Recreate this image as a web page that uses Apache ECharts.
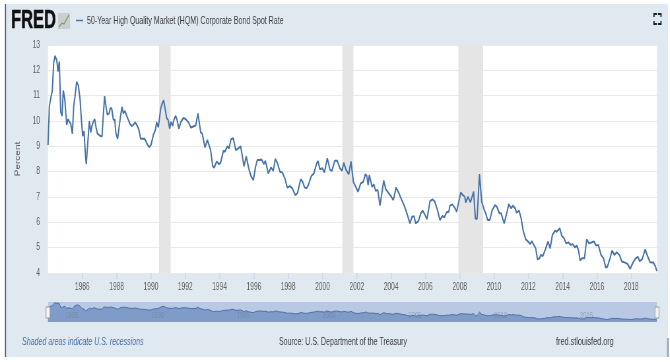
<!DOCTYPE html>
<html><head><meta charset="utf-8">
<style>html,body{margin:0;padding:0;background:#fff;overflow:hidden}
#w{width:670px;height:362px;overflow:hidden}
#c{width:1015px;height:362px;transform:scaleX(0.66);transform-origin:0 0;filter:blur(0.3px)}</style>
<script src="https://cdn.jsdelivr.net/npm/echarts@6/dist/echarts.min.js"></script>
</head><body><div id="w"><div id="c"></div></div>
<script>
const seriesName = '50-Year High Quality Market (HQM) Corporate Bond Spot Rate';
const yTicks = [4,5,6,7,8,9,10,11,12,13];
const xTicks = [1986,1988,1990,1992,1994,1996,1998,2000,2002,2004,2006,2008,2010,2012,2014,2016,2018];
const navTicks = [1985,1990,1995,2000,2005,2010,2015];
const recessions = [[1990.47,1991.15],[2001.16,2001.8],[2007.92,2009.36]];
const dates = [
1984.00,1984.08,1984.16,1984.25,1984.33,1984.41,1984.51,1984.58,1984.66,1984.74,1984.82,1984.89,1984.97,
1985.09,1985.17,1985.24,1985.32,1985.42,1985.50,1985.57,1985.67,1985.77,1985.87,1985.94,
1986.02,1986.10,1986.18,1986.23,1986.33,1986.41,1986.49,1986.56,1986.64,1986.72,1986.80,1986.88,1986.97,
1987.07,1987.15,1987.23,1987.30,1987.38,1987.46,1987.56,1987.63,1987.71,1987.81,1987.89,1987.96,
1988.06,1988.14,1988.24,1988.31,1988.39,1988.49,1988.59,1988.68,1988.78,1988.88,1988.97,
1989.09,1989.21,1989.30,1989.40,1989.50,1989.62,1989.71,1989.81,1989.91,
1990.00,1990.14,1990.26,1990.33,1990.43,1990.49,1990.57,1990.66,1990.74,1990.82,1990.92,
1991.00,1991.09,1991.17,1991.27,1991.34,1991.44,1991.52,1991.63,1991.75,1991.89,
1992.02,1992.18,1992.33,1992.47,1992.61,1992.74,1992.90,1992.99,
1993.15,1993.29,1993.36,1993.48,1993.60,1993.69,1993.83,1993.97,
1994.06,1994.22,1994.32,1994.45,1994.55,1994.67,1994.80,1994.94,
1995.09,1995.23,1995.42,1995.56,1995.70,1995.83,1995.97,
1996.10,1996.20,1996.32,1996.45,1996.59,1996.67,1996.84,
1997.00,1997.13,1997.25,1997.37,1997.52,1997.66,1997.81,1997.95,
1998.10,1998.24,1998.42,1998.55,1998.73,1998.84,1998.96,
1999.08,1999.19,1999.35,1999.50,1999.66,1999.74,1999.85,1999.99,
2000.11,2000.28,2000.44,2000.55,2000.71,2000.86,
2001.02,2001.14,2001.24,2001.37,2001.53,2001.66,2001.80,2001.94,
2002.07,2002.23,2002.38,2002.50,2002.58,2002.66,2002.73,2002.89,2002.99,
2003.10,2003.22,2003.35,2003.41,2003.57,2003.68,2003.84,2003.98,
2004.13,2004.29,2004.46,2004.62,2004.79,2004.95,
2005.10,2005.22,2005.34,2005.43,2005.59,2005.73,2005.84,2005.98,
2006.09,2006.27,2006.41,2006.54,2006.70,2006.85,2006.99,
2007.10,2007.24,2007.36,2007.43,2007.57,2007.73,2007.82,
2008.06,2008.17,2008.29,2008.35,2008.48,2008.62,2008.81,2008.91,
2009.01,2009.15,2009.28,2009.40,2009.51,2009.63,2009.75,2009.90,
2010.06,2010.16,2010.31,2010.41,2010.59,2010.74,2010.86,
2011.00,2011.09,2011.23,2011.32,2011.46,2011.58,2011.71,2011.85,2011.99,
2012.10,2012.20,2012.35,2012.43,2012.53,2012.65,2012.72,2012.84,2012.98,
2013.15,2013.27,2013.40,2013.56,2013.66,2013.83,2013.95,
2014.08,2014.20,2014.34,2014.47,2014.59,2014.72,2014.82,2014.92,
2015.02,2015.13,2015.27,2015.40,2015.54,2015.70,2015.83,2015.95,
2016.08,2016.24,2016.38,2016.51,2016.61,2016.76,2016.88,
2017.02,2017.15,2017.31,2017.45,2017.60,2017.78,2017.93,
2018.13,2018.26,2018.38,2018.49,2018.63,2018.81,2018.94,
2019.10,2019.29,2019.41,2019.49];
const rates = [
9.05,10.6,10.9,11.2,12.3,12.57,12.4,11.95,12.35,10.35,10.2,11.2,10.9,
9.85,10.08,9.97,9.9,9.5,10.6,10.95,11.55,11.4,10.85,10.1,
9.4,9.6,8.65,8.3,9.25,10,9.55,9.8,9.97,10.08,9.75,9.5,9.45,
9.4,9.4,10.3,10.98,10.55,10.25,10.3,10.5,10.5,10.05,10.05,9.5,
9.3,9.75,10.25,10.55,10.3,10.4,10.2,10.05,9.88,9.8,9.85,
9.95,9.8,9.65,9.3,9.3,9.3,9.2,9.05,8.97,
9.05,9.45,9.65,9.95,9.75,9.7,10.5,10.7,10.82,10.5,10.1,
10.05,9.7,9.97,9.8,10.05,10.2,10.05,9.7,9.97,10.12,
10.08,9.95,9.74,9.78,9.82,10.3,9.55,9.5,
8.96,9.25,9.3,8.85,8.22,8.16,8.4,8.3,
8.35,8.82,8.8,9,8.92,9.28,9.32,8.85,
8.92,9,8.22,8.6,8.13,7.83,7.67,
8.2,8.46,8.46,8.48,8.3,8.43,7.93,
8.17,8.03,8.5,8.35,8,7.97,7.73,7.37,
7.43,7.34,7.07,7.17,7.7,7.6,7.37,
7.35,7.5,7.83,7.93,8.33,8.42,8.09,8.14,
7.97,8.53,8.07,8.03,8.43,8.43,
8.13,8.04,8.35,8.07,7.9,8.4,7.6,7.4,
7.21,7.54,7.6,7.9,7.84,7.47,7.87,7.4,7.5,
7.24,7.28,6.66,6.62,7.65,7.32,7.17,7.04,
6.88,7.37,7.14,6.88,6.62,6.29,
5.96,6.22,6.24,5.96,6.05,6.36,6.46,6.28,
6.13,6.84,6.91,6.82,6.49,6.09,6.25,
6.2,6.4,6.42,6.66,6.71,6.55,6.42,
7.18,7.08,7.01,6.78,7.01,6.79,7.21,6.16,
6.13,7.9,6.82,6.55,6.36,6.09,6.09,6.49,
6.68,6.62,6.36,6.36,5.96,6.36,6.72,
6.55,6.66,6.55,6.38,6.46,6.16,5.63,5.33,5.24,
5.14,5.26,5.07,4.97,4.54,4.58,4.71,4.67,4.91,
5.24,4.97,5.5,5.67,5.63,5.76,5.47,
5.37,5.17,5.21,5.11,5.14,5.01,5.08,4.91,
4.49,4.58,4.58,5.33,5.17,5.21,5.24,5.08,
5.11,4.71,4.58,4.22,4.25,4.58,4.88,
4.71,4.82,4.71,4.45,4.42,4.36,4.16,
4.45,4.58,4.64,4.47,4.54,4.93,4.68,
4.42,4.41,4.25,4.08];
const pairs = dates.map((d,i)=>[d,rates[i]]);
const S = 0.66, X = px => px / S;
const sans = '"Liberation Sans",Arial,sans-serif';
const panel = '#e1e9f0', lineBlue = '#4572a7', textGrey = '#5f5f5f';
const corner = pts => ({type:'polyline',shape:{points:pts.map(p=>[X(p[0]),p[1]])},style:{stroke:'#1a2430',fill:null,lineWidth:1.8},z:5});
const chart = echarts.init(document.getElementById('c'),null,{renderer:'canvas',width:1015,height:362});
chart.setOption({
  animation:false,
  backgroundColor:'#ffffff',
  textStyle:{fontFamily:sans},
  graphic:[
    {type:'rect',shape:{x:X(5),y:4,width:X(663),height:353},style:{fill:panel},z:-10},
    {type:'rect',shape:{x:X(5),y:4,width:1.6,height:353},style:{fill:'#555'},z:5},
    {type:'rect',shape:{x:X(667),y:338,width:3,height:19},style:{fill:'#9aa8b6'},z:5},
    {type:'text',style:{x:X(11),y:21,text:'FRED',fontFamily:sans,fontWeight:'bold',fontSize:25,fill:'#111',textAlign:'left',textVerticalAlign:'middle',stroke:'#111',lineWidth:0.5},z:5},
    {type:'rect',shape:{x:X(58),y:13,width:X(12),height:16},style:{fill:'#c9ced3'},z:5},
    {type:'polyline',shape:{points:[[59,27],[62,23],[64,24],[69,15]].map(p=>[X(p[0]),p[1]])},style:{stroke:'#7aa05a',fill:null,lineWidth:1.3},z:6},
    {type:'line',shape:{x1:X(76),y1:20.5,x2:X(83),y2:20.5},style:{stroke:lineBlue,lineWidth:1.5},z:5},
    {type:'text',style:{x:X(87),y:21,text:seriesName,fontFamily:sans,fontSize:10.7,fill:'#3c3c3c',textVerticalAlign:'middle'},z:5},
    corner([[654,17],[654,14],[657,14]]),corner([[658,14],[661,14],[661,17]]),
    corner([[654,21],[654,24],[657,24]]),corner([[658,24],[661,24],[661,21]]),
    {type:'rect',shape:{x:X(46),y:307,width:X(4),height:11},style:{fill:'#f2f2f2',stroke:'#999',lineWidth:1},z:8},
    {type:'rect',shape:{x:X(655),y:307,width:X(4),height:11},style:{fill:'#f2f2f2',stroke:'#999',lineWidth:1},z:8},
    {type:'text',style:{x:X(22),y:342,text:'Shaded areas indicate U.S. recessions',fontFamily:sans,fontStyle:'italic',fontSize:10.7,fill:lineBlue,textVerticalAlign:'middle'},z:5},
    {type:'text',style:{x:X(279),y:342,text:'Source: U.S. Department of the Treasury',fontFamily:sans,fontSize:10.7,fill:'#3c3c3c',textVerticalAlign:'middle'},z:5},
    {type:'text',style:{x:X(556),y:342,text:'fred.stlouisfed.org',fontFamily:sans,fontSize:11,fill:'#3c3c3c',textVerticalAlign:'middle'},z:5}
  ],
  grid:[
    {left:X(48),top:45,width:X(609),height:228,show:true,backgroundColor:'#fff',borderWidth:0},
    {left:X(48),top:302,width:X(609),height:20,show:true,backgroundColor:'#b9c9e3',borderWidth:0}
  ],
  xAxis:[
    {type:'value',gridIndex:0,min:1984,max:2019.5,
     axisLine:{show:false},splitLine:{show:false},
     axisTick:{show:true,customValues:xTicks,length:6,lineStyle:{color:'#ccd6eb',width:1.5}},
     axisLabel:{customValues:xTicks,color:textGrey,fontSize:10,margin:9,formatter:v=>String(v)}},
    {type:'value',gridIndex:1,min:1984,max:2019.5,z:6,
     axisLine:{show:false},splitLine:{show:false},axisTick:{show:false},
     axisLabel:{customValues:navTicks,inside:true,margin:2,align:'left',color:'rgba(110,125,150,0.5)',fontSize:9,formatter:v=>String(v)}}
  ],
  yAxis:[
    {type:'value',gridIndex:0,min:4,max:13,interval:1,
     name:'Percent',nameLocation:'middle',nameGap:X(27),nameTextStyle:{color:textGrey,fontSize:10,fontFamily:sans},
     axisLine:{show:false},axisTick:{show:false},
     splitLine:{lineStyle:{color:'#e9e9e9',width:1}},
     axisLabel:{customValues:yTicks,color:textGrey,fontSize:10,margin:X(8)}},
    {type:'value',gridIndex:1,min:3,max:13,show:false}
  ],
  series:[
    {type:'line',xAxisIndex:0,yAxisIndex:0,data:pairs,showSymbol:false,silent:true,z:3,
     lineStyle:{color:lineBlue,width:2},
     markArea:{silent:true,itemStyle:{color:'#e5e5e5'},data:recessions.map(r=>[{xAxis:r[0]},{xAxis:r[1]}])}},
    {type:'line',xAxisIndex:1,yAxisIndex:1,data:pairs,showSymbol:false,silent:true,
     lineStyle:{color:'#4f73a8',width:1},areaStyle:{color:'#7f9bc8',opacity:1}}
  ]
});
</script></body></html>
